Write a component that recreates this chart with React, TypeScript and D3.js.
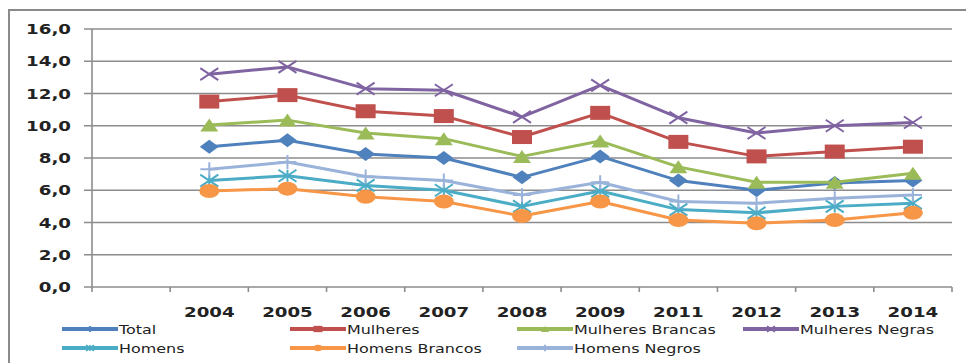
import React from "react";
import * as d3 from "d3";

const years = ["2004", "2005", "2006", "2007", "2008", "2009", "2011", "2012", "2013", "2014"];
const categories = ["", ...years];
const yTicks = [0, 2, 4, 6, 8, 10, 12, 14, 16];

const total = [8.7, 9.1, 8.25, 8.0, 6.8, 8.1, 6.6, 6.0, 6.45, 6.6];
const mulheres = [11.5, 11.9, 10.9, 10.6, 9.3, 10.8, 9.0, 8.1, 8.4, 8.7];
const mulheresBrancas = [10.05, 10.35, 9.55, 9.2, 8.1, 9.05, 7.45, 6.5, 6.5, 7.05];
const mulheresNegras = [13.2, 13.65, 12.3, 12.2, 10.55, 12.5, 10.5, 9.55, 10.0, 10.2];
const homens = [6.6, 6.9, 6.3, 6.0, 5.0, 5.95, 4.8, 4.6, 5.0, 5.2];
const homensBrancos = [5.95, 6.1, 5.6, 5.3, 4.4, 5.3, 4.15, 3.95, 4.15, 4.6];
const homensNegros = [7.3, 7.75, 6.85, 6.6, 5.7, 6.5, 5.3, 5.2, 5.5, 5.7];

type Marker = "diamond" | "square" | "triangle" | "x" | "star" | "circle" | "plus";

const series: { name: string; values: number[]; color: string; marker: Marker }[] = [
  { name: "Total", values: total, color: "#4F81BD", marker: "diamond" },
  { name: "Mulheres", values: mulheres, color: "#C0504D", marker: "square" },
  { name: "Mulheres Brancas", values: mulheresBrancas, color: "#9BBB59", marker: "triangle" },
  { name: "Mulheres Negras", values: mulheresNegras, color: "#8064A2", marker: "x" },
  { name: "Homens", values: homens, color: "#4BACC6", marker: "star" },
  { name: "Homens Brancos", values: homensBrancos, color: "#F79646", marker: "circle" },
  { name: "Homens Negros", values: homensNegros, color: "#9AB3DA", marker: "plus" },
];

const left = 92, right = 952, top = 29, bottom = 287;
const SX = 1.3;
const FONT = "'DejaVu Sans', Verdana, sans-serif";

function markerEl(m: Marker, x: number, y: number, color: string, hw: number, hh: number, key?: any) {
  switch (m) {
    case "diamond":
      return <path key={key} d={`M${x - hw},${y}L${x},${y - hh}L${x + hw},${y}L${x},${y + hh}Z`} fill={color} />;
    case "square":
      return <rect key={key} x={x - hw} y={y - hh} width={hw * 2} height={hh * 2} fill={color} />;
    case "triangle":
      return <path key={key} d={`M${x - hw},${y + hh}L${x},${y - hh}L${x + hw},${y + hh}Z`} fill={color} />;
    case "circle":
      return <ellipse key={key} cx={x} cy={y} rx={hw} ry={hh} fill={color} />;
    case "x":
      return (
        <path key={key} d={`M${x - hw},${y - hh}L${x + hw},${y + hh}M${x - hw},${y + hh}L${x + hw},${y - hh}`} stroke={color} strokeWidth={2} fill="none" />
      );
    case "star":
      return (
        <path key={key} d={`M${x - hw},${y - hh}L${x + hw},${y + hh}M${x - hw},${y + hh}L${x + hw},${y - hh}M${x},${y - hh}L${x},${y + hh}`} stroke={color} strokeWidth={2} fill="none" />
      );
    case "plus":
      return (
        <path key={key} d={`M${x - hw},${y}L${x + hw},${y}M${x},${y - hh}L${x},${y + hh}`} stroke={color} strokeWidth={2} fill="none" />
      );
  }
}

function markerSize(m: Marker): [number, number] {
  switch (m) {
    case "diamond": return [9.5, 7];
    case "square": return [10, 7];
    case "triangle": return [9, 6.5];
    case "circle": return [10, 7];
    case "x": return [9, 6];
    case "star": return [9, 6];
    case "plus": return [9, 7];
  }
}

export default function App() {
  const x = d3.scaleBand<string>().domain(categories).range([left, right]).padding(0);
  const y = d3.scaleLinear().domain([0, 16]).range([bottom, top]);
  const cx = (i: number) => (x(years[i]) as number) + x.bandwidth() / 2;
  const line = d3.line<number>().x((_, i) => cx(i)).y((v) => y(v));
  const fmt = (v: number) => v.toFixed(1).replace(".", ",");

  const legendCols = [62, 290, 517, 743];
  const legendRows = [329, 348];

  return (
    <svg width={966} height={363} style={{ position: "absolute", left: 0, top: 0, background: "#fff" }}>
      <rect x={9} y={10} width={1000} height={400} fill="#fff" stroke="#8a8a8a" strokeWidth={2} />
      {yTicks.map((t) => (
        <g key={t}>
          <line x1={left - 8} x2={right} y1={y(t)} y2={y(t)} stroke="#8c8c8c" strokeWidth={1.6} />
          <text
            transform={`translate(71,${y(t) + 5}) scale(${SX + 0.05},1)`}
            textAnchor="end"
            fontFamily={FONT}
            fontWeight="bold"
            fontSize={13.5}
            fill="#222"
          >
            {fmt(t)}
          </text>
        </g>
      ))}
      <line x1={left} x2={left} y1={top} y2={bottom} stroke="#8c8c8c" strokeWidth={1.6} />
      {categories.map((c, i) => (
        <line key={"t" + i} x1={x(c) as number} x2={x(c) as number} y1={bottom} y2={bottom + 5} stroke="#8c8c8c" strokeWidth={1.6} />
      ))}
      <line x1={right} x2={right} y1={bottom} y2={bottom + 5} stroke="#8c8c8c" strokeWidth={1.6} />
      {years.map((yr, i) => (
        <text
          key={yr}
          transform={`translate(${cx(i)},317) scale(1.3,1)`}
          textAnchor="middle"
          fontFamily={FONT}
          fontWeight="bold"
          fontSize={14}
          fill="#222"
        >
          {yr}
        </text>
      ))}
      {series.map((s) => (
        <g key={s.name}>
          <path d={line(s.values) as string} fill="none" stroke={s.color} strokeWidth={3} strokeLinejoin="round" />
          {s.values.map((v, i) => {
            const [hw, hh] = markerSize(s.marker);
            return markerEl(s.marker, cx(i), y(v), s.color, hw, hh, i);
          })}
        </g>
      ))}
      {series.map((s, k) => {
        const lx = legendCols[k % 4];
        const ly = legendRows[Math.floor(k / 4)];
        const [hw, hh] = markerSize(s.marker);
        return (
          <g key={"lg" + s.name}>
            <line x1={lx} x2={lx + 56} y1={ly} y2={ly} stroke={s.color} strokeWidth={4} />
            {markerEl(s.marker, lx + 28, ly, s.color, hw * 0.45, hh * 0.45)}
            <text
              transform={`translate(${lx + 57},${ly + 4.5}) scale(${SX + 0.03},1)`}
              fontFamily={FONT}
              fontSize={12}
              fill="#222"
            >
              {s.name}
            </text>
          </g>
        );
      })}
    </svg>
  );
}
